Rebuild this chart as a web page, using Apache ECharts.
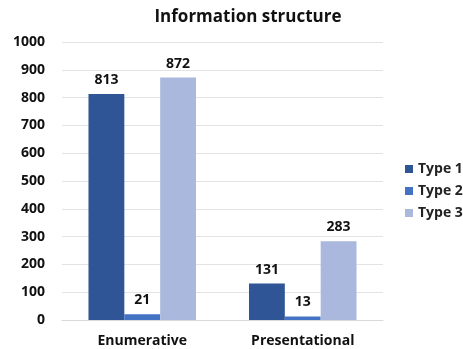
<!DOCTYPE html>
<html><head><meta charset="utf-8">
<script src="https://cdn.jsdelivr.net/npm/echarts@6/dist/echarts.min.js"></script>
<style>html,body{margin:0;padding:0;background:#fff}#c{width:463px;height:349px}</style>
</head><body><div id="c"></div>
<script>
const categories = ['Enumerative', 'Presentational'];
const seriesNames = ['Type 1', 'Type 2', 'Type 3'];
const type1 = [813, 131];
const type2 = [21, 13];
const type3 = [872, 283];
const colors = ['#2F5597', '#4472C4', '#A9B8DC'];
const font = '"Open Sans", "Noto Sans", sans-serif';
const chart = echarts.init(document.getElementById('c'));
const values = [type1, type2, type3];
chart.setOption({
  animation: false,
  title: { text: 'Information structure', left: 243, textAlign: 'center', top: 4,
    textStyle: { fontFamily: font, fontSize: 17, fontWeight: 'bold', color: '#111' } },
  legend: { orient: 'vertical', left: 400, top: 157, itemWidth: 8, itemHeight: 8, itemGap: 8,
    icon: 'rect', textStyle: { fontFamily: font, fontSize: 14, fontWeight: 'bold', color: '#222' },
    data: seriesNames },
  grid: { left: 62, right: 80, top: 42, bottom: 29 },
  xAxis: { type: 'category', data: categories, axisTick: { show: false },
    axisLine: { lineStyle: { color: '#d9d9d9' } },
    axisLabel: { fontFamily: font, fontSize: 14, fontWeight: 'bold', color: '#111', margin: 14 } },
  yAxis: { type: 'value', min: 0, max: 1000, interval: 100,
    axisLabel: { fontFamily: font, fontSize: 14, fontWeight: 'bold', color: '#111', margin: 17,
      formatter: v => String(v) },
    splitLine: { lineStyle: { color: '#e3e3e3' } } },
  series: seriesNames.map((n, i) => ({
    name: n, type: 'bar', data: values[i], barGap: 0, barCategoryGap: '33%',
    itemStyle: { color: colors[i] },
    label: { show: true, position: 'top', distance: 7, fontFamily: font, fontSize: 14, fontWeight: 'bold', color: '#111' }
  }))
});
</script></body></html>
